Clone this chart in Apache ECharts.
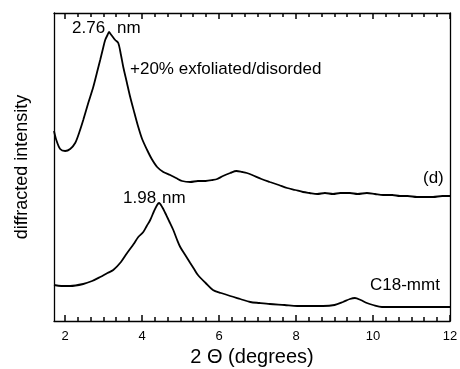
<!DOCTYPE html>
<html><head><meta charset="utf-8">
<script src="https://cdn.jsdelivr.net/npm/echarts@6/dist/echarts.min.js"></script>
<style>html,body{margin:0;padding:0;background:#fff}#c{width:460px;height:369px}</style>
</head><body><div id="c"></div>
<script>
// exfoliated/disordered sample (d): [2theta, intensity (arb.)]
const exfoliatedX = [1.71,1.77,1.87,2.0,2.13,2.26,2.37,2.47,2.6,2.73,2.83,2.91,2.98,3.04,3.1,3.14,3.18,3.22,3.3,3.38,3.45,3.51,3.6,3.69,3.8,3.9,4.0,4.13,4.25,4.39,4.55,4.73,4.88,5.04,5.25,5.45,5.65,5.84,5.95,6.1,6.29,6.45,6.6,6.72,6.86,7.1,7.32,7.55,7.77,7.98,8.18,8.35,8.55,8.75,8.96,9.15,9.4,9.6,9.84,10.05,10.26,10.5,10.7,10.9,11.14,11.35,11.56,11.8,12.0];
const exfoliatedY = [190,181,172,170,172,178,189,201,218,234,249,261,272,281,286,289,287,285,281,278,266,254,239,224,208,194,182,171,162,154,149,146,143,140,139,140,140,141,142,145,148,150,149,148,146,142,139,136,133,131,129,128,127,128,127,128,128,127,128,127,126,126,125,125,124,124,124,125,125];
// C18-mmt: [2theta, intensity (arb.)]
const mmtX = [1.71,1.9,2.13,2.47,2.7,2.91,3.1,3.25,3.45,3.61,3.78,3.9,4.03,4.12,4.21,4.3,4.39,4.44,4.52,4.6,4.7,4.81,4.9,4.99,5.12,5.25,5.35,5.45,5.65,5.84,6.05,6.29,6.55,6.81,7.05,7.32,7.7,8.03,8.4,8.7,9.0,9.22,9.4,9.53,9.68,9.84,10.0,10.23,10.6,11.0,11.5,12.0];
const mmtY = [36,35,35,37,40,44,48,51,59,68,77,84,89,95,101,109,116,118,114,108,100,91,82,74,66,58,52,46,38,31,28,25,22,19,18,17,16,15,15,15,16,19,22,23,21,18,16,14,14,14,14,14];
const xTickLabels = [2,4,6,8,10,12];
const xMin = 1.71, xMax = 12, yMin = 0, yMax = 308;

const pair = (xs, ys) => xs.map((x,i)=>[x, ys[i]]);
const font = '"Liberation Sans", Arial, sans-serif';
const W = 460, H = 369;
const G = {left:54, right:10, top:13, bottom:48};
const plotW = W - G.left - G.right;
const chart = echarts.init(document.getElementById('c'), null, {renderer:'canvas'});
const texts = [
  {type:'text', left:72, top:20, style:{text:'2.76', fill:'#000', font:'17px '+font}},
  {type:'text', left:117, top:20, style:{text:'nm', fill:'#000', font:'17px '+font}},
  {type:'text', left:130, top:61, style:{text:'+20% exfoliated/disorded', fill:'#000', font:'17px '+font}},
  {type:'text', left:423, top:170, style:{text:'(d)', fill:'#000', font:'17px '+font}},
  {type:'text', left:123, top:190, style:{text:'1.98', fill:'#000', font:'17px '+font}},
  {type:'text', left:162, top:190, style:{text:'nm', fill:'#000', font:'17px '+font}},
  {type:'text', left:370, top:277, style:{text:'C18-mmt', fill:'#000', font:'17px '+font}}
];
// tick marks: major at the tick label values, 6 sub-intervals between them (inside, top and bottom)
const tickVals = [];
for (let i = 0; i < xTickLabels.length; i++) {
  tickVals.push([xTickLabels[i], 6]);
  if (i < xTickLabels.length - 1) {
    const a = xTickLabels[i], b = xTickLabels[i+1];
    for (let k = 1; k < 6; k++) tickVals.push([a + (b-a)*k/6, 4]);
  }
}
const yBot = H - G.bottom, yTop = G.top;
const tickEls = [];
tickVals.forEach(([v, len]) => {
  const x = Math.round(G.left + (v - xMin) / (xMax - xMin) * plotW);
  // small filled rectangles are used for the tick marks
  tickEls.push({type:'rect', silent:true, shape:{x:x-0.75, y:yBot-len, width:1.5, height:len}, style:{fill:'#000'}});
  tickEls.push({type:'rect', silent:true, shape:{x:x-0.75, y:yTop, width:1.5, height:len}, style:{fill:'#000'}});
});
const frameAxis = {splitLine:{show:false}, axisTick:{show:false}, axisLabel:{show:false},
  axisLine:{show:true, onZero:false, lineStyle:{color:'#000', width:1.3}}};
chart.setOption({
  animation:false,
  grid:{left:G.left, right:G.right, top:G.top, bottom:G.bottom, show:false,
    containLabel:false, outerBoundsMode:'none'},
  xAxis:[
    Object.assign({}, frameAxis, {type:'value', position:'bottom', min:xMin, max:xMax,
      axisLabel:{show:true, customValues:xTickLabels, color:'#000', fontSize:13, fontFamily:font, margin:9},
      name:'2 \u0398 (degrees)', nameLocation:'middle', nameGap:25,
      nameTextStyle:{color:'#000', fontSize:20, fontFamily:font}}),
    Object.assign({}, frameAxis, {type:'value', position:'top', min:xMin, max:xMax})
  ],
  yAxis:[
    Object.assign({}, frameAxis, {type:'value', position:'left', min:yMin, max:yMax,
      name:'diffracted intensity', nameLocation:'middle', nameGap:23,
      nameTextStyle:{color:'#000', fontSize:18, fontFamily:font}}),
    Object.assign({}, frameAxis, {type:'value', position:'right', min:yMin, max:yMax})
  ],
  series:[
    {type:'line', data:pair(exfoliatedX, exfoliatedY), showSymbol:false, smooth:0.3,
      lineStyle:{color:'#000', width:1.8}, silent:true},
    {type:'line', data:pair(mmtX, mmtY), showSymbol:false, smooth:0.3,
      lineStyle:{color:'#000', width:1.8}, silent:true}
  ],
  graphic:texts.concat(tickEls)
});
</script></body></html>
